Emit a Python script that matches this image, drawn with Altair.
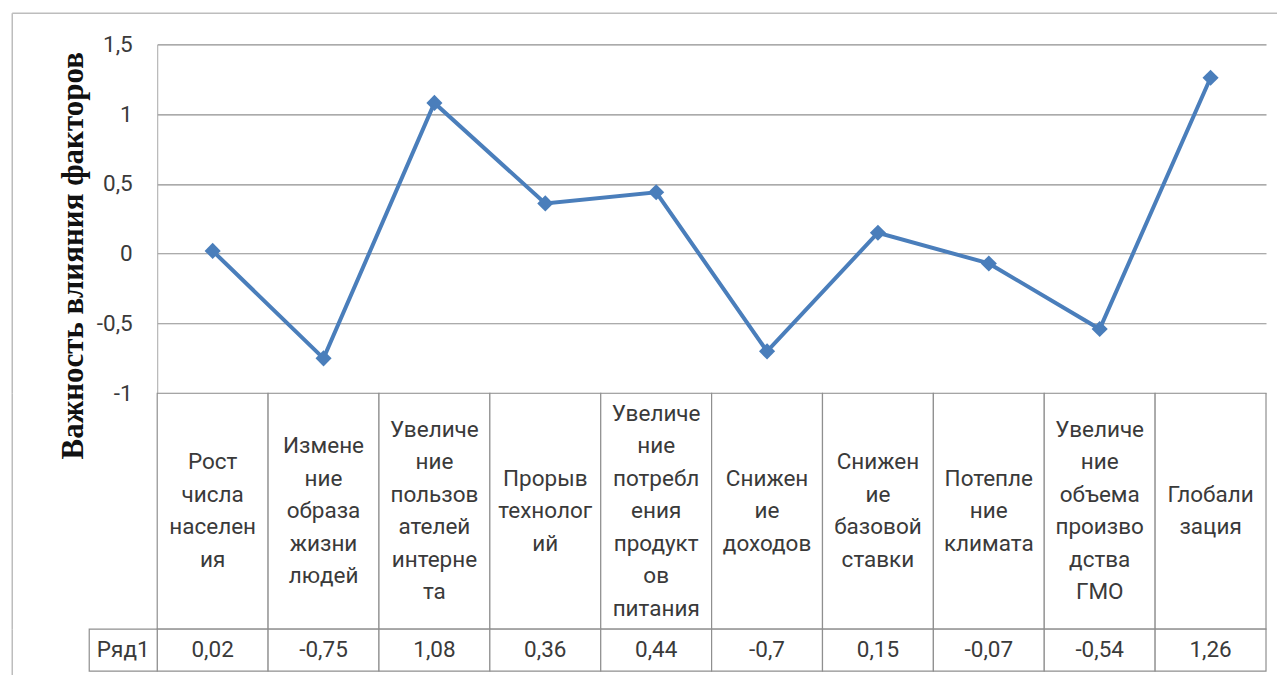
import altair as alt
import pandas as pd

# ---- data ----
categories = [
    "Рост\nчисла\nнаселен\nия",
    "Измене\nние\nобраза\nжизни\nлюдей",
    "Увеличе\nние\nпользов\nателей\nинтерне\nта",
    "Прорыв\nтехнолог\nий",
    "Увеличе\nние\nпотребл\nения\nпродукт\nов\nпитания",
    "Снижен\nие\nдоходов",
    "Снижен\nие\nбазовой\nставки",
    "Потепле\nние\nклимата",
    "Увеличе\nние\nобъема\nпроизво\nдства\nГМО",
    "Глобали\nзация",
]
values = [0.02, -0.75, 1.08, 0.36, 0.44, -0.7, 0.15, -0.07, -0.54, 1.26]
series_name = ["Ряд1"]
y_ticks = [-1, -0.5, 0, 0.5, 1, 1.5]
y_title = "Важность влияния факторов"

df = pd.DataFrame({"cat": categories, "value": values})
ser = pd.DataFrame({"name": series_name})
one = pd.DataFrame({"a": [0]})

# ---- style ----
BLUE = "#4A7EBB"
GRID = "#8f8f8f"
TEXT = "#3a3a3a"
FONT = "Roboto"
FS = 22.5
LH = 32.5
W = 1109
H_PLOT = 349
H_HDR = 236
H_VAL = 42

# ---- top plot ----
x_pt = alt.X("cat:N", sort=categories, scale=alt.Scale(type="point", padding=0.5), axis=None)
y_enc = alt.Y(
    "value:Q",
    scale=alt.Scale(domain=[-1, 1.5], nice=False, zero=False),
    axis=alt.Axis(
        values=y_ticks,
        title=y_title,
        labelExpr="replace(toString(datum.value), '.', ',')",
        labelFont=FONT,
        labelFontSize=FS,
        labelColor=TEXT,
        labelPadding=25,
        ticks=False,
        tickSize=0,
        domain=True,
        domainColor="#a8a8a8",
        domainWidth=1,
        grid=True,
        gridColor=GRID,
        gridWidth=1.2,
        titleFont="Liberation Serif",
        titleFontWeight="bold",
        titleFontSize=31,
        titleColor="#111111",
        titleAngle=270,
        titleX=-75,
        titleY=211,
        titleAlign="center",
        titleBaseline="alphabetic",
    ),
)

line = alt.Chart(df).mark_line(color=BLUE, strokeWidth=4).encode(x=x_pt, y=y_enc)
pts = alt.Chart(df).mark_point(shape="diamond", filled=True, size=260, color=BLUE, opacity=1).encode(
    x=x_pt, y=alt.Y("value:Q")
)
border_top = alt.Chart(one).mark_rule(color="#bdbdbd", strokeWidth=1.5).encode(
    x=alt.value(-145), x2=alt.value(1120), y=alt.value(-31)
)
border_left_top = alt.Chart(one).mark_rule(color="#bdbdbd", strokeWidth=1.5).encode(
    x=alt.value(-145), y=alt.value(-31), y2=alt.value(H_PLOT)
)
top = alt.layer(border_top, border_left_top, line, pts).properties(width=W, height=H_PLOT)

# ---- header row of table ----
x_band = alt.X("cat:N", sort=categories, scale=alt.Scale(type="band", paddingInner=0, paddingOuter=0), axis=None)
hdr_cells = alt.Chart(df).mark_rect(fill="white", stroke=GRID, strokeWidth=1.2).encode(x=x_band)
hdr_text = (
    alt.Chart(df)
    .transform_calculate(
        ypos=f"{H_HDR / 2} - (length(split(datum.cat, '\\n')) - 1) * {LH / 2}"
    )
    .mark_text(font=FONT, fontSize=FS, lineHeight=LH, lineBreak="\n", color=TEXT, align="center", baseline="middle")
    .encode(x=x_band, y=alt.Y("ypos:Q", scale=None, axis=None), text="cat:N")
)
border_left_hdr = alt.Chart(one).mark_rule(color="#bdbdbd", strokeWidth=1.5).encode(
    x=alt.value(-145), y=alt.value(0), y2=alt.value(H_HDR)
)
hdr = alt.layer(border_left_hdr, hdr_cells, hdr_text).properties(width=W, height=H_HDR)

# ---- value row of table ----
val_cells = alt.Chart(df).mark_rect(fill="white", stroke=GRID, strokeWidth=1.2).encode(x=x_band)
val_text = alt.Chart(df).transform_calculate(
    lab="replace(toString(datum.value), '.', ',')"
).mark_text(font=FONT, fontSize=FS, color=TEXT, align="center", baseline="middle").encode(
    x=x_band, text="lab:N"
)
name_cell = alt.Chart(ser).mark_rect(fill="white", stroke=GRID, strokeWidth=1.2).encode(
    x=alt.value(-68), x2=alt.value(0), y=alt.value(0), y2=alt.value(H_VAL)
)
name_text = alt.Chart(ser).mark_text(font=FONT, fontSize=FS, color=TEXT, align="center", baseline="middle").encode(
    x=alt.value(-34), y=alt.value(H_VAL / 2), text="name:N"
)
border_left_val = alt.Chart(one).mark_rule(color="#bdbdbd", strokeWidth=1.5).encode(
    x=alt.value(-145), y=alt.value(0), y2=alt.value(H_VAL + 4)
)
val = alt.layer(border_left_val, val_cells, val_text, name_cell, name_text).properties(width=W, height=H_VAL)

chart = (
    alt.vconcat(top, hdr, val, spacing=0, bounds="flush")
    .properties(padding={"left": 11.25, "top": 12.25, "right": 5, "bottom": 0}, background="white")
    .configure_view(stroke=None)
)

chart.save("out.html", embed_options={"renderer": "svg", "actions": False})
